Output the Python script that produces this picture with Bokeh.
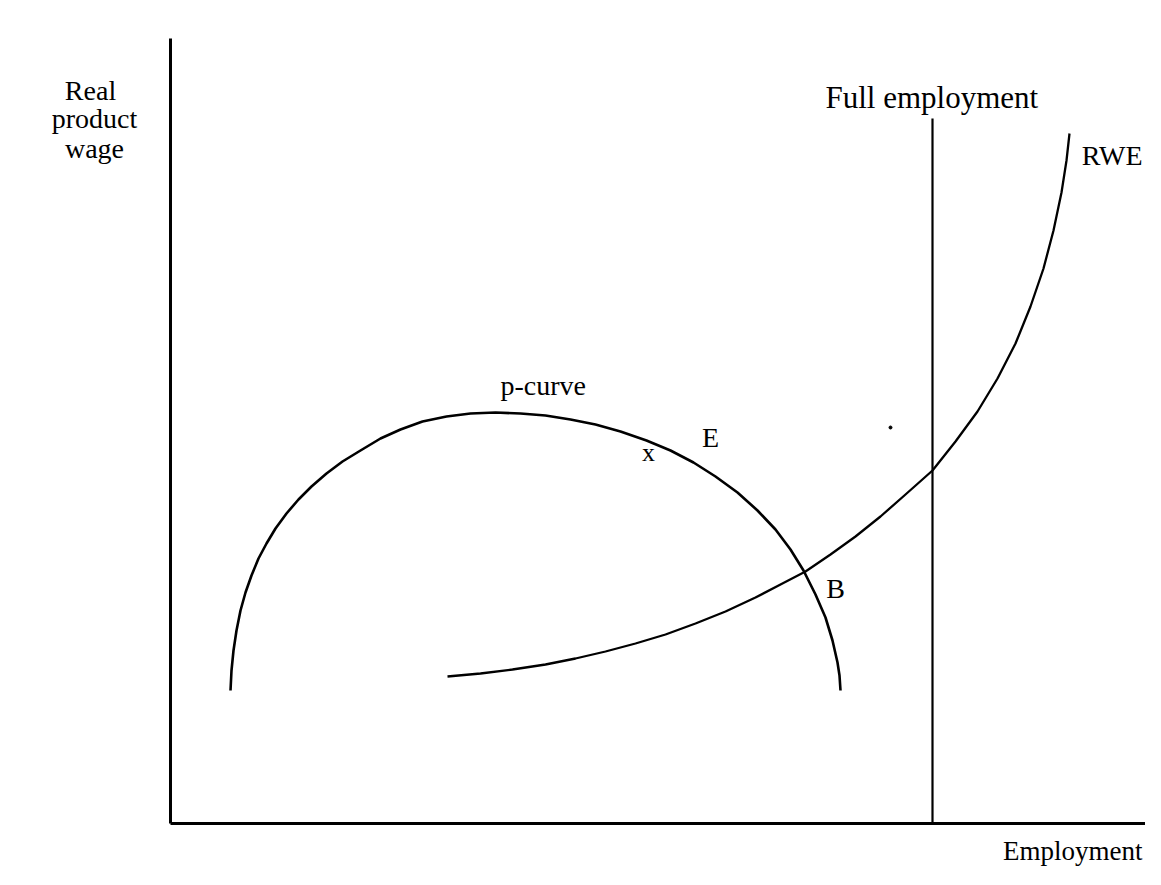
from bokeh.plotting import figure
from bokeh.models import Range1d, Label
from bokeh.embed import file_html
from bokeh.resources import INLINE

# ---- data (employment units on x, real product wage units on y) ----
pcurve_x = [6.0, 6.1, 6.3, 6.6, 7.0, 7.5, 8.1, 8.8, 9.6, 10.5, 11.6, 12.8, 14.1, 15.6,
            17.2, 19.0, 21.0, 23.0, 25.2, 27.6, 30.0, 32.5, 35.0, 37.5, 40.0, 42.5,
            45.0, 47.6, 50.0, 52.3, 54.5, 56.7, 58.7, 60.5, 62.0, 63.3, 64.5, 65.5,
            66.2, 66.7, 66.9, 67.0]
pcurve_y = [13.3, 15.3, 17.3, 19.3, 21.3, 23.1, 24.8, 26.5, 28.0, 29.5, 31.0, 32.4,
            33.7, 35.0, 36.2, 37.3, 38.5, 39.4, 40.2, 40.7, 41.0, 41.1, 41.0, 40.8,
            40.4, 39.9, 39.2, 38.3, 37.3, 36.1, 34.7, 33.1, 31.3, 29.4, 27.4, 25.3,
            22.9, 20.6, 18.3, 16.1, 14.8, 13.3]

rwe_x = [27.7, 31.0, 34.2, 37.5, 40.5, 43.5, 46.5, 49.5, 52.5, 55.5, 58.5, 61.0,
         63.5, 66.0, 68.5, 71.0, 73.5, 76.2, 78.5, 80.7, 82.7, 84.5, 86.0, 87.3,
         88.3, 89.1, 89.6, 89.9]
rwe_y = [14.7, 15.0, 15.4, 15.9, 16.5, 17.2, 18.0, 18.9, 20.0, 21.2, 22.6, 23.9,
         25.2, 26.9, 28.7, 30.7, 32.9, 35.3, 38.2, 41.2, 44.5, 48.0, 51.7, 55.5,
         59.3, 63.1, 66.3, 69.0]

full_employment_x = 76.2
full_employment_top = 70.5
axis_x_max = 99.5
axis_y_max = 78.5
stray_dot_x = [72.0]
stray_dot_y = [39.6]

FONT = "Liberation Serif"
FS = "28px"

p = figure(width=1145, height=869, output_backend="svg", toolbar_location=None,
           x_range=Range1d(-17.0, 97.5), y_range=Range1d(-4.6, 82.3),
           x_axis_type=None, y_axis_type=None, min_border=0)
p.grid.visible = False
p.outline_line_color = None
p.background_fill_color = "white"
p.border_fill_color = "white"

# axes
p.line([0, 0], [0, axis_y_max], line_color="black", line_width=3)
p.line([0, axis_x_max], [0, 0], line_color="black", line_width=3)
# full employment line
p.line([full_employment_x, full_employment_x], [0, full_employment_top],
       line_color="black", line_width=2.2)

# curves
p.line(pcurve_x, pcurve_y, line_color="black", line_width=2.6, line_join="round")
p.line(rwe_x, rwe_y, line_color="black", line_width=2.3, line_join="round")
p.scatter(stray_dot_x, stray_dot_y, size=3, color="black")

def lab(x, y, text, align="left", size=FS):
    p.add_layout(Label(x=x, y=y, text=text, text_font=FONT, text_font_size=size,
                       text_align=align, text_baseline="middle", text_color="black"))

lab(-8.0, 73.3, "Real", "center")
lab(-7.6, 70.5, "product", "center")
lab(-7.6, 67.5, "wage", "center")
lab(65.5, 72.6, "Full employment", size="31px")
lab(97.2, 66.8, "RWE", "right")
lab(33.0, 43.8, "p-curve")
lab(54.0, 38.6, "E", "center")
lab(47.8, 37.1, "x", "center", "26px")
lab(66.5, 23.5, "B", "center")
lab(97.2, -2.7, "Employment", "right", "27px")

open("out.html", "w").write(file_html(p, INLINE))
